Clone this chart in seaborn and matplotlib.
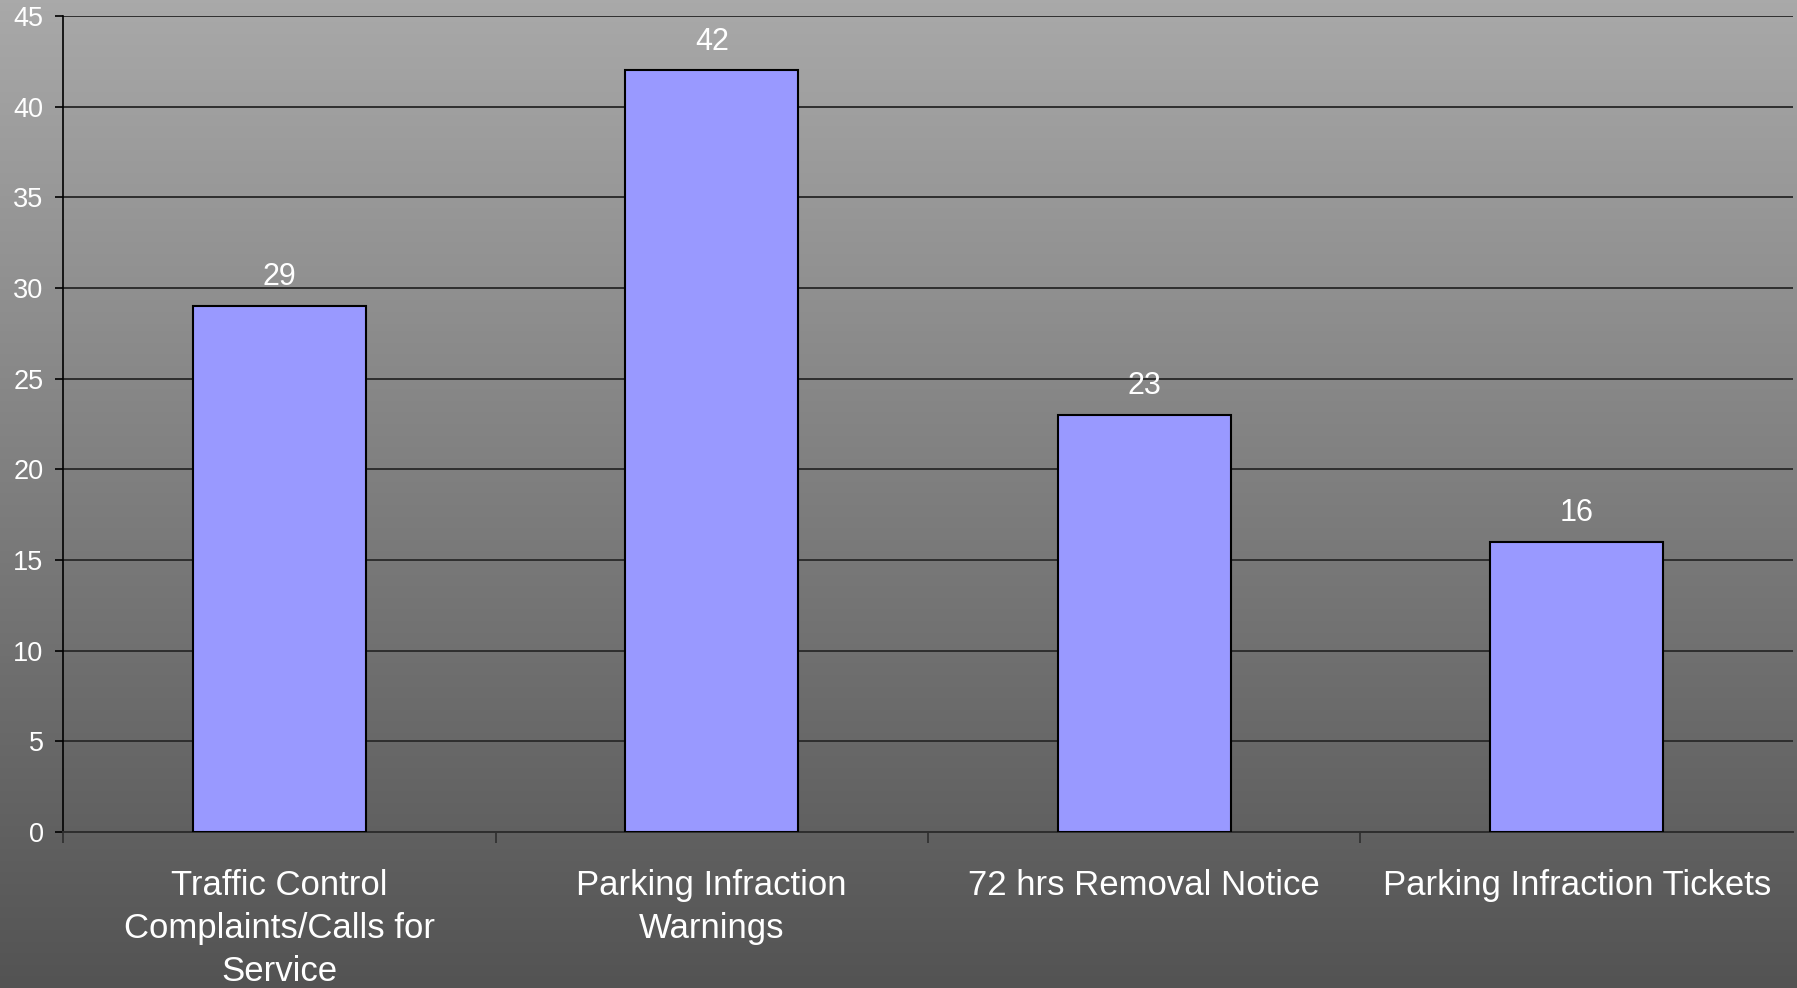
import numpy as np
import matplotlib
matplotlib.use("Agg")
import matplotlib.pyplot as plt
import seaborn as sb

categories = ["Traffic Control\nComplaints/Calls for\nService",
              "Parking Infraction\nWarnings",
              "72 hrs Removal Notice",
              "Parking Infraction Tickets"]
counts = [29, 42, 23, 16]
y_ticks = [0, 5, 10, 15, 20, 25, 30, 35, 40, 45]

sb.set_style("ticks")
plt.rcParams['font.family'] = ['Liberation Sans', 'DejaVu Sans']

fig = plt.figure(figsize=(17.97, 9.88), dpi=100)

# grey gradient background over the whole figure
bg = fig.add_axes([0, 0, 1, 1], zorder=0)
grad = np.linspace(0, 1, 256).reshape(-1, 1)
cmap = matplotlib.colors.LinearSegmentedColormap.from_list("bg", ["#a9a9a9", "#535353"])
bg.imshow(grad, aspect="auto", cmap=cmap, extent=[0, 1, 0, 1])
bg.axis("off")

ax = fig.add_axes([63/1797, 1 - 832/988, 1730/1797, 816/988], zorder=1)
ax.patch.set_alpha(0)

sb.barplot(x=categories, y=counts, color="#9999ff", edgecolor="black",
           linewidth=1.5, width=0.4, saturation=1, ax=ax, zorder=3)

for i, v in enumerate(counts):
    ax.annotate(str(v), (i, v), xytext=(0, 10), textcoords="offset points",
                ha="center", va="bottom", color="white", fontsize=22)

ax.set_xlim(-0.5, 3.5)
ax.set_ylim(0, 45)
ax.set_yticks(y_ticks)
ax.yaxis.grid(True, color="#2e2e2e", linewidth=1.4)
ax.set_axisbelow(True)

for s in ["top", "right"]:
    ax.spines[s].set_visible(False)
ax.spines["left"].set_color("black")
ax.spines["bottom"].set_color("#2e2e2e")
ax.spines["left"].set_linewidth(1.2)
ax.spines["bottom"].set_linewidth(1.4)

ax.tick_params(axis="y", colors="white", labelsize=19.5, length=6, width=1.2,
               pad=8, color="black")
ax.tick_params(axis="x", which="major", length=0, labelsize=25, colors="white", pad=26.5)
ax.set_xticks([-0.5, 0.5, 1.5, 2.5], minor=True)
ax.tick_params(axis="x", which="minor", length=8, width=1.2, color="#2e2e2e")
for lbl in ax.get_xticklabels():
    lbl.set_multialignment("center")
    lbl.set_linespacing(1.38)
ax.set_xlabel("")
ax.set_ylabel("")

fig.savefig("out.png", dpi=100)
